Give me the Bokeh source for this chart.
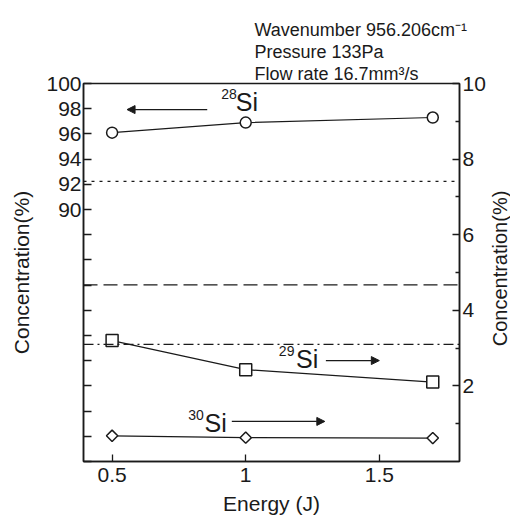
from bokeh.plotting import figure
from bokeh.models import (Range1d, LinearAxis, FixedTicker, Span, Label, Arrow,
                          NormalHead, CustomJSTickFormatter, Title)
from bokeh.layouts import row
from bokeh.core.properties import value
from bokeh.embed import file_html
from bokeh.resources import INLINE
import math

# ---- data ----
energy = [0.5, 1.0, 1.7]
si28 = [96.1, 96.9, 97.3]        # left axis (%)
si29 = [3.2, 2.43, 2.1]          # right axis (%)
si30 = [0.68, 0.63, 0.62]        # right axis (%)
natural_si28 = 92.23             # left axis
natural_si29 = 4.67              # right axis
natural_si30 = 3.10              # right axis
x_ticks = [0.5, 1.0, 1.5]
left_ticks = [90, 92, 94, 96, 98, 100]
left_minor = [70, 72, 74, 76, 78, 80, 82, 84, 86, 88]
right_ticks = [2, 4, 6, 8, 10]
right_minor = [1, 3, 5, 7, 9]
info_lines = ["Wavenumber 956.206cm\u207b\u00b9", "Pressure 133Pa", "Flow rate 16.7mm\u00b3/s"]
y_label = "Concentration(%)"
x_label = "Energy (J)"

FONT = "Liberation Sans"
BLACK = "#1a1a1a"

p = figure(width=488, height=517, x_range=Range1d(0.393, 1.80), y_range=Range1d(0, 10),
           y_axis_location="right", output_backend="svg", toolbar_location=None,
           min_border_left=83, min_border_right=26, min_border_top=83, min_border_bottom=56)
p.extra_y_ranges = {"left": Range1d(70, 100)}
p.title.visible = False
p.xgrid.visible = False
p.ygrid.visible = False
p.outline_line_color = BLACK
p.outline_line_width = 1.5
p.background_fill_color = "white"
p.border_fill_color = "white"


def style(ax, size="21px"):
    ax.axis_line_color = BLACK
    ax.axis_line_width = 1.5
    ax.major_tick_line_color = BLACK
    ax.minor_tick_line_color = BLACK
    ax.major_tick_line_width = 1.3
    ax.minor_tick_line_width = 1.3
    ax.major_tick_out = 0
    ax.minor_tick_out = 0
    ax.major_label_text_font = FONT
    ax.major_label_text_font_size = size
    ax.major_label_text_color = BLACK
    ax.axis_label_text_font = FONT
    ax.axis_label_text_font_style = "normal"
    ax.axis_label_text_font_size = "21px"
    ax.axis_label_text_color = BLACK


# bottom axis
xa = p.xaxis[0]
style(xa)
xa.ticker = FixedTicker(ticks=x_ticks)
xa.formatter = CustomJSTickFormatter(code="return String(tick)")
xa.major_tick_in = 7
xa.major_label_standoff = 6
xa.axis_label = x_label
xa.axis_label_standoff = 7

# right axis (its title is drawn in the thin side panel)
ra = p.yaxis[0]
style(ra)
ra.ticker = FixedTicker(ticks=right_ticks, minor_ticks=right_minor)
ra.major_tick_in = 7
ra.minor_tick_in = 4
ra.major_label_standoff = 3

# left axis
la = LinearAxis(y_range_name="left")
style(la)
la.ticker = FixedTicker(ticks=left_ticks, minor_ticks=left_minor)
la.major_tick_in = 8
la.minor_tick_in = 8
la.major_label_standoff = 2
la.axis_label = y_label
la.axis_label_standoff = 10
p.add_layout(la, "left")

# natural abundance reference lines
p.add_layout(Span(location=natural_si28, dimension="width", y_range_name="left",
                  line_color=BLACK, line_width=1.3, line_dash="3 5"))
p.add_layout(Span(location=natural_si29, dimension="width",
                  line_color=BLACK, line_width=1.3, line_dash="14 6"))
p.add_layout(Span(location=natural_si30, dimension="width",
                  line_color=BLACK, line_width=1.3, line_dash="10 4 2 4"))

# series
p.line(energy, si28, y_range_name="left", line_color=BLACK, line_width=1.2)
p.scatter(energy, si28, y_range_name="left", marker="circle", size=11,
          fill_color="white", line_color=BLACK, line_width=1.5)
p.line(energy, si29, line_color=BLACK, line_width=1.2)
p.scatter(energy, si29, marker="square", size=12,
          fill_color="white", line_color=BLACK, line_width=1.5)
p.line(energy, si30, line_color=BLACK, line_width=1.2)
p.scatter(energy, si30, marker="square", size=8, angle=math.pi / 4,
          fill_color="white", line_color=BLACK, line_width=1.5)


def iso_label(xs, ys, xm, ym, mass):
    p.add_layout(Label(x=xs, y=ys, text=mass, text_font=FONT, text_font_size="14px",
                       text_color=BLACK, text_baseline="alphabetic"))
    p.add_layout(Label(x=xm, y=ym, text="Si", text_font=FONT, text_font_size="25px",
                       text_color=BLACK, text_baseline="alphabetic"))


def arrow(x0, x1, y):
    p.add_layout(Arrow(end=NormalHead(size=8, fill_color=BLACK, line_color=BLACK),
                       x_start=x0, y_start=y, x_end=x1, y_end=y,
                       line_color=BLACK, line_width=1.2))


iso_label(0.908, 9.72, 0.963, 9.52, "28")
arrow(0.856, 0.556, 9.31)
iso_label(1.124, 2.93, 1.188, 2.70, "29")
arrow(1.30, 1.50, 2.67)
iso_label(0.785, 1.22, 0.846, 1.02, "30")
arrow(0.948, 1.296, 1.06)

# condition text above the frame (stacked titles, nearest to frame first)
for i, txt in enumerate(reversed(info_lines)):
    p.add_layout(Title(text=txt, align="left", offset=171, text_font=FONT,
                       text_font_size="18px", text_font_style="normal",
                       text_color=BLACK, standoff=0), "above")

# thin side panel carrying the right-hand axis title (reads bottom to top)
side = figure(width=22, height=517, x_range=Range1d(0, 22), y_range=Range1d(0, 517),
              x_axis_type=None, y_axis_type=None, output_backend="svg",
              toolbar_location=None, min_border=0)
side.title.visible = False
side.outline_line_color = None
side.xgrid.visible = False
side.ygrid.visible = False
side.text(x=[11], y=[264], text=[y_label], angle=math.pi / 2, text_align="center",
          text_baseline="middle", text_font=value(FONT), text_font_size=value("20px"),
          text_color=BLACK)

layout = row(p, side, spacing=0)
open("out.html", "w").write(file_html(layout, INLINE))
